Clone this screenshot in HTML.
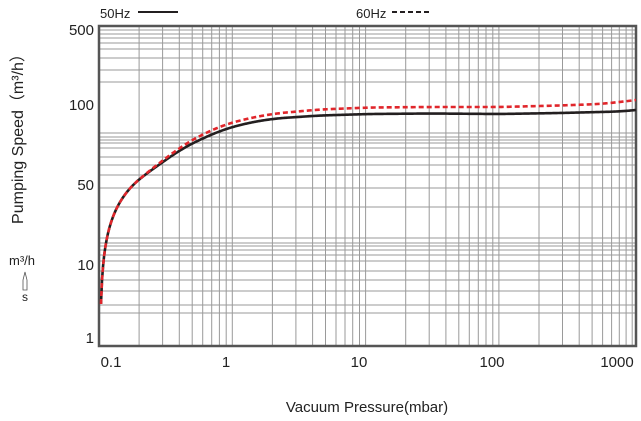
<!DOCTYPE html>
<html><head><meta charset="utf-8"><style>
html,body{margin:0;padding:0;background:#fff;width:641px;height:421px;overflow:hidden}
svg{display:block}
text{font-family:"Liberation Sans","Noto Sans CJK SC",sans-serif;fill:#222}
</style></head><body>
<svg id="s" width="641" height="421" viewBox="0 0 641 421" xmlns="http://www.w3.org/2000/svg">
<g id="grid" stroke="#9a9a9a" stroke-width="1"></g>
<rect x="99" y="26" width="537" height="320" fill="none" stroke="#555" stroke-width="2.5"/>
<path id="blk" d="" fill="none" stroke="#231f20" stroke-width="2.6"/>
<path id="red" d="" fill="none" stroke="#e0262b" stroke-width="2.6" stroke-dasharray="5,3"/>
<text x="100" y="18" font-size="13">50Hz</text>
<line x1="138" y1="12" x2="178" y2="12" stroke="#231f20" stroke-width="2"/>
<text x="356" y="18" font-size="13">60Hz</text>
<line x1="392" y1="12" x2="432" y2="12" stroke="#231f20" stroke-width="2" stroke-dasharray="5,3"/>
<g font-size="15" text-anchor="end">
<text x="94" y="35">500</text>
<text x="94" y="110">100</text>
<text x="94" y="190">50</text>
<text x="94" y="270">10</text>
<text x="94" y="343">1</text>
</g>
<g font-size="15" text-anchor="middle">
<text x="111" y="367">0.1</text>
<text x="226" y="367">1</text>
<text x="359" y="367">10</text>
<text x="492" y="367">100</text>
<text x="617" y="367">1000</text>
</g>
<text x="367" y="412" font-size="15" text-anchor="middle">Vacuum Pressure(mbar)</text>
<text transform="translate(23,135) rotate(-90)" font-size="16" text-anchor="middle">Pumping Speed（m³/h）</text>
<text x="9" y="265" font-size="13">m³/h</text>
<path d="M23,280 L25,272 L27,280 L27,290 L23,290 Z" fill="none" stroke="#555" stroke-width="0.8"/>
<text x="22" y="301" font-size="12">s</text>
</svg>
<script>
var g=document.getElementById('grid'),h='';
for(var d=0;d<4;d++){for(var k=1;k<10;k++){var x=99+133.3*(d+Math.log10(k));if(x<636)h+='<line x1="'+x.toFixed(1)+'" y1="26" x2="'+x.toFixed(1)+'" y2="346"/>';}}
var x=99+133.3*4;h+='<line x1="'+x+'" y1="26" x2="'+x+'" y2="346"/>';
[30,34,38,43,49,58,70,82,133,137,140,143,148,157,165,175,188,207,238,243,246,250,255,261,271,280,291,305,313].forEach(function(y){h+='<line x1="99" y1="'+y+'" x2="636" y2="'+y+'"/>';});
g.innerHTML=h;
function build(anch){
  function lin(x){for(var i=0;i<anch.length-1;i++){if(x<=anch[i+1][0]){var a=anch[i],b=anch[i+1];return a[1]+(b[1]-a[1])*(x-a[0])/(b[0]-a[0]);}}return anch[anch.length-1][1];}
  var xs=[],ys=[];
  for(var x=101;x<=636;x+=1){xs.push(x);ys.push(x<=145?304-34*Math.log(x-100):lin(x));}
  var sm=ys.slice();
  for(var i=0;i<xs.length;i++){if(xs[i]<125)continue;var w=Math.min(Math.round((xs[i]-125)/2),12,xs.length-1-i),s=0,n=0;for(var j=-w;j<=w;j++){s+=ys[i+j];n++;}sm[i]=s/n;}
  var pts=[[101,304],[101.3,296],[101.6,290]];
  for(var i=1;i<xs.length;i++)pts.push([xs[i],sm[i]]);
  return 'M'+pts.map(function(p){return p[0]+','+p[1].toFixed(2)}).join(' L');
}
document.getElementById('blk').setAttribute('d',build([[145,174.8],[160,164],[180,150],[200,139.5],[225,129],[250,122.5],[275,118.5],[320,115.5],[370,114],[430,113.5],[500,114],[560,113],[600,112],[620,111.5],[636,110]]));
document.getElementById('red').setAttribute('d',build([[145,174.3],[160,162.5],[180,147.5],[200,135.5],[225,124.5],[250,118],[275,113.5],[320,109.5],[370,107.5],[430,107],[500,107],[560,105.5],[600,104],[620,102],[636,100]]));
</script>
</body></html>
